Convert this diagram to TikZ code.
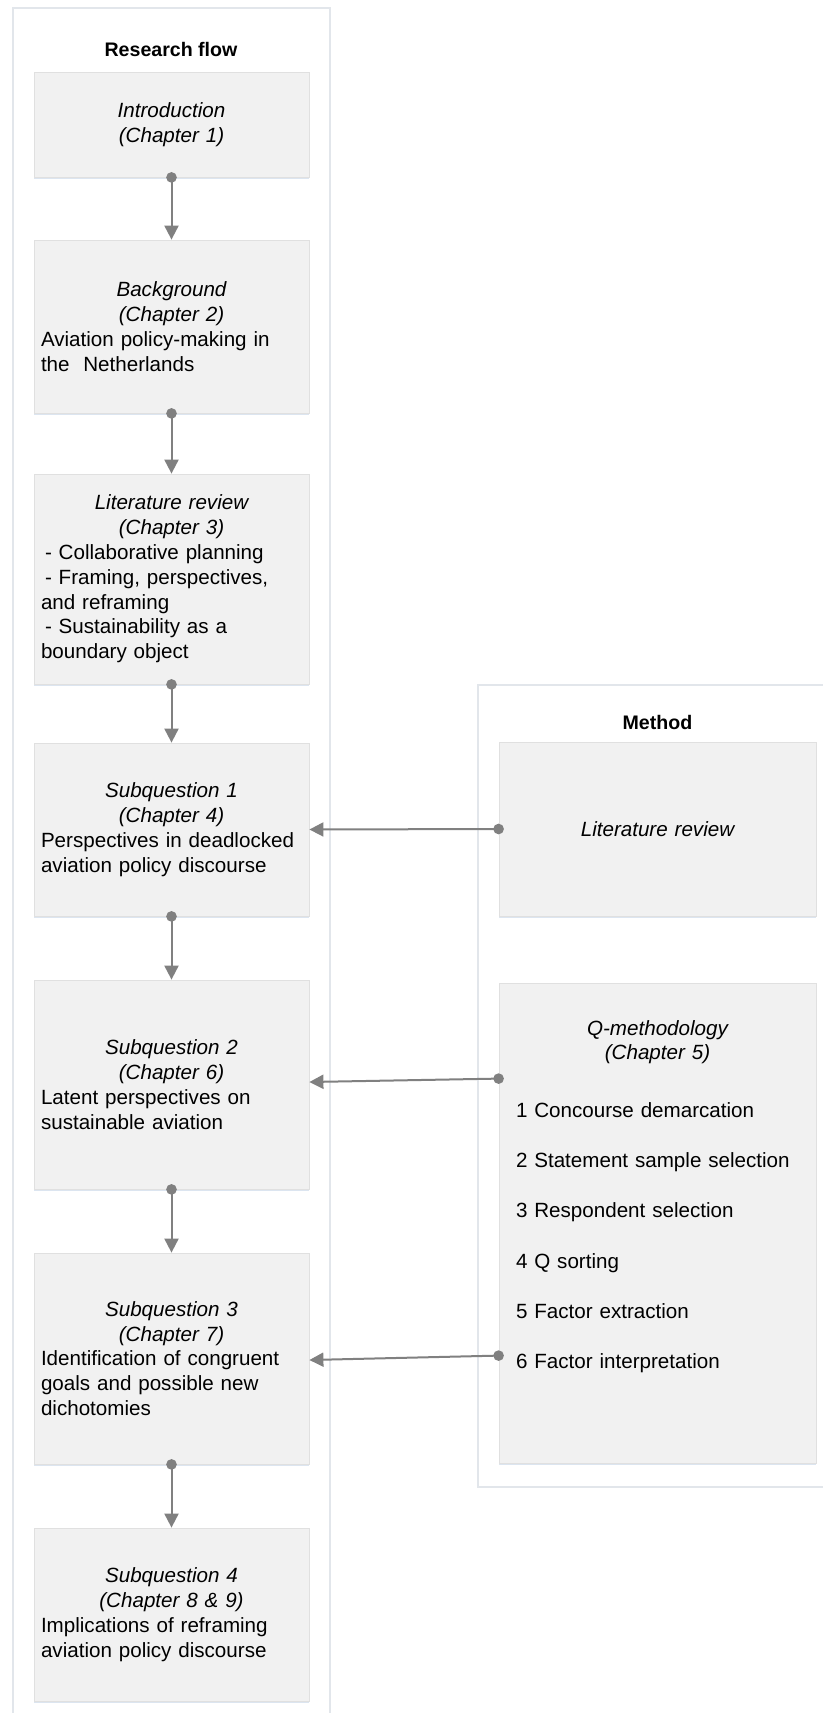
\documentclass[tikz,border=0pt]{standalone}
\usepackage{fontspec}
\setmainfont{Liberation Sans}
\usetikzlibrary{arrows.meta,shadows}

\definecolor{boxfill}{HTML}{F1F1F1}
\definecolor{boxline}{HTML}{E0E0E0}
\definecolor{boxshade}{HTML}{DCE5F0}
\definecolor{frameline}{HTML}{E2E6EB}
\definecolor{connector}{HTML}{808080}

\newcommand\diagbody{\fontsize{20.6}{24.8}\selectfont}
\newcommand\diagtitle{\fontsize{19.6}{24}\selectfont\bfseries}
\newcommand\boxhead[1]{{\centering\itshape #1\par}}

\begin{document}
\begin{tikzpicture}[x=1pt,y=-1pt,
  frame/.style={draw=frameline, line width=1.2pt},
  frametitle/.style={font=\diagtitle, inner sep=0pt},
  stepbox/.style={rectangle, draw=boxline, line width=0.8pt, fill=boxfill,
    minimum width=275pt, inner xsep=7pt, inner ysep=0pt, text width=261pt,
    align=left, font=\diagbody,
    drop shadow={shadow xshift=0pt, shadow yshift=-2pt, fill=boxshade, opacity=1}},
  methodbox/.style={stepbox, minimum width=317pt, text width=303pt},
  conn/.style={draw=connector, line width=2pt, shorten <=-5.25pt,
    {Circle[length=10.5pt]}-{Triangle[length=14pt,width=14pt]}}
]
% canvas
\fill[white] (0,0) rectangle (822,1713);
\useasboundingbox (0,0) rectangle (822,1713);

% the two columns
\draw[frame] (13,8) rectangle (330,1730);
\draw[frame] (478,685) rectangle (840,1487);
\node[frametitle] (flowtitle) at (171,49) {Research flow};
\node[frametitle] (methodtitle) at (657.5,722) {Method};

% research flow
\node[stepbox, minimum height=105pt] (intro) at (171.5,124.5)
  {\boxhead{Introduction\\(Chapter 1)}};
\node[stepbox, minimum height=173pt] (bg) at (171.5,326.5)
  {\boxhead{Background\\(Chapter 2)}Aviation policy-making in\\the\ \ Netherlands};
\node[stepbox, minimum height=210pt] (litrev) at (171.5,579)
  {\boxhead{Literature review\\(Chapter 3)}\hspace*{4pt}- Collaborative planning\\\hspace*{4pt}- Framing, perspectives,\\and reframing\\\hspace*{4pt}- Sustainability as a\\boundary object};
\node[stepbox, minimum height=173pt] (sq1) at (171.5,829.5)
  {\boxhead{Subquestion 1\\(Chapter 4)}Perspectives in deadlocked\\aviation policy discourse};
\node[stepbox, minimum height=209pt] (sq2) at (171.5,1084.5)
  {\boxhead{Subquestion 2\\(Chapter 6)}Latent perspectives on\\sustainable aviation};
\node[stepbox, minimum height=211pt] (sq3) at (171.5,1358.5)
  {\boxhead{Subquestion 3\\(Chapter 7)}Identification of congruent\\goals and possible new\\dichotomies};
\node[stepbox, minimum height=173pt] (sq4) at (171.5,1614.5)
  {\boxhead{Subquestion 4\\(Chapter 8 \& 9)}Implications of reframing\\aviation policy discourse};

% method
\node[methodbox, minimum height=174pt, align=center] (mlit) at (657.5,829)
  {\itshape Literature review};
\node[methodbox, minimum height=480pt] (qm) at (657.5,1223) {};
\node[anchor=north, inner sep=0pt, text width=283pt, align=left, font=\diagbody]
  (qsteps) at (657.5,1020)
  {\boxhead{Q-methodology\\(Chapter 5)}\vspace{32.7pt}%
   1 Concourse demarcation\\[25.4pt]
   2 Statement sample selection\\[25.4pt]
   3 Respondent selection\\[25.4pt]
   4 Q sorting\\[25.4pt]
   5 Factor extraction\\[25.4pt]
   6 Factor interpretation};

% connectors
\draw[conn] (intro.south) -- (bg.north);
\draw[conn] (bg.south) -- (litrev.north);
\draw[conn] (litrev.south) -- (sq1.north);
\draw[conn] (sq1.south) -- (sq2.north);
\draw[conn] (sq2.south) -- (sq3.north);
\draw[conn] (sq3.south) -- (sq4.north);
\draw[conn] (mlit.west) -- (sq1.east);
\draw[conn] ([yshift=-96pt]qm.north west) -- ([yshift=2.5pt]sq2.east);
\draw[conn] ([yshift=-373pt]qm.north west) -- ([yshift=-1.5pt]sq3.east);
\end{tikzpicture}
\end{document}
